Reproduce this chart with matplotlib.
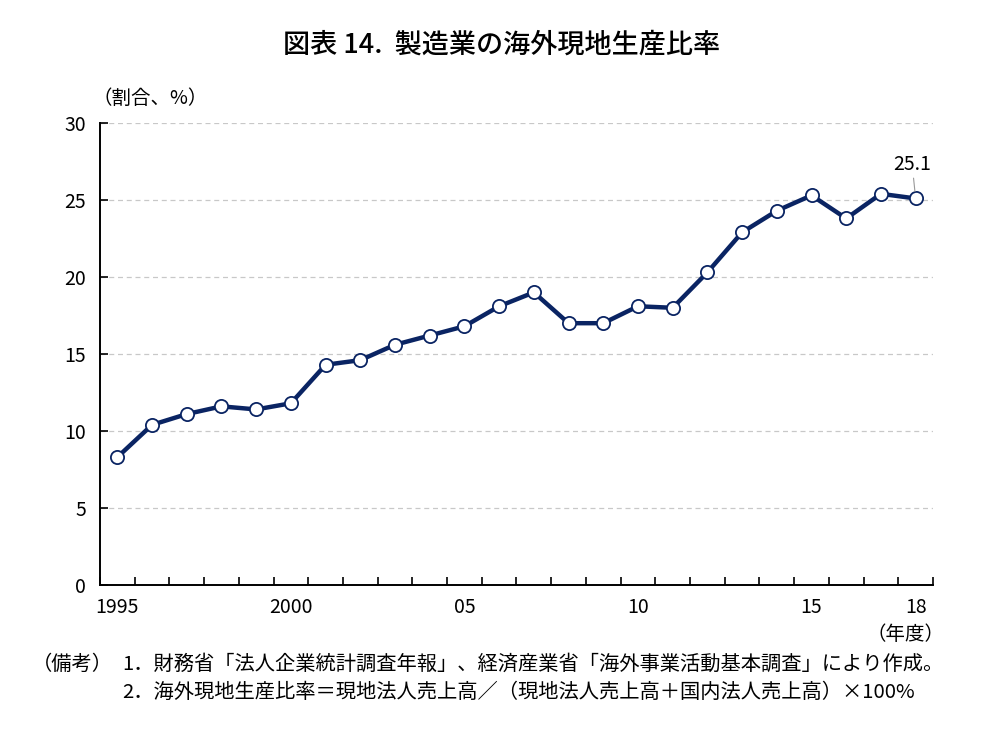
import numpy as np
import matplotlib.pyplot as plt

plt.rcParams['font.family'] = ['Noto Sans CJK JP', 'DejaVu Sans']

# data
years = list(range(1995, 2019))
ratio = [8.3, 10.4, 11.1, 11.6, 11.4, 11.8, 14.3, 14.6, 15.6, 16.2, 16.8, 18.1,
         19.0, 17.0, 17.0, 18.1, 18.0, 20.3, 22.9, 24.3, 25.3, 23.8, 25.4, 25.1]
tick_labels = {1995: "1995", 2000: "2000", 2005: "05", 2010: "10", 2015: "15", 2018: "18"}

navy = "#0a2463"

fig = plt.figure(figsize=(9.94, 7.42), dpi=100)
ax = fig.add_axes([100/994, 1-585/742, 833/994, 462/742])

x = np.arange(len(years))
ax.plot(x, ratio, color=navy, lw=3.2, marker='o', ms=9.5, mfc='white', mec=navy, mew=1.3, zorder=3)

ax.set_xlim(-0.5, len(years) - 0.5)
ax.set_ylim(0, 30)
ax.set_yticks(range(0, 31, 5))
ax.set_xticks(np.arange(len(years) + 1) - 0.5)
ax.set_xticklabels([])
ax.tick_params(axis='x', direction='in', length=6, width=1.2, color='black')
ax.tick_params(axis='y', direction='in', length=6, width=1.2, labelsize=14, pad=10)
for i, y in enumerate(years):
    if y in tick_labels:
        ax.text(i, -0.8, tick_labels[y], ha='center', va='top', fontsize=14)

for v in range(5, 31, 5):
    ax.axhline(v, color='#c8c8c8', lw=0.9, ls=(0, (4, 3)), zorder=1)

for s in ['top', 'right']:
    ax.spines[s].set_visible(False)
ax.spines['left'].set_linewidth(1.4)
ax.spines['bottom'].set_linewidth(1.4)

# last value label
ax.annotate("25.1", xy=(x[-1], ratio[-1]), xytext=(x[-1] - 0.1, ratio[-1] + 1.5),
            ha='center', va='bottom', fontsize=14,
            arrowprops=dict(arrowstyle='-', color='#999999', lw=0.8, shrinkA=0, shrinkB=5))

fig.text(0.505, 1-45/742, "図表 14.  製造業の海外現地生産比率", ha='center', va='center',
         fontsize=19.5, fontweight='medium')
fig.text(92/994, 1-98/742, "（割合、%）", ha='left', va='center', fontsize=14)
fig.text(945/994, 1-634/742, "（年度）", ha='right', va='center', fontsize=14)
fig.text(32/994, 1-664/742, "（備考）", ha='left', va='center', fontsize=14.6)
fig.text(122/994, 1-664/742, "1．財務省「法人企業統計調査年報」、経済産業省「海外事業活動基本調査」により作成。",
         ha='left', va='center', fontsize=14.6)
fig.text(122/994, 1-692/742, "2．海外現地生産比率＝現地法人売上高／（現地法人売上高＋国内法人売上高）×100%",
         ha='left', va='center', fontsize=14.6)

plt.savefig("out.png", dpi=100)
